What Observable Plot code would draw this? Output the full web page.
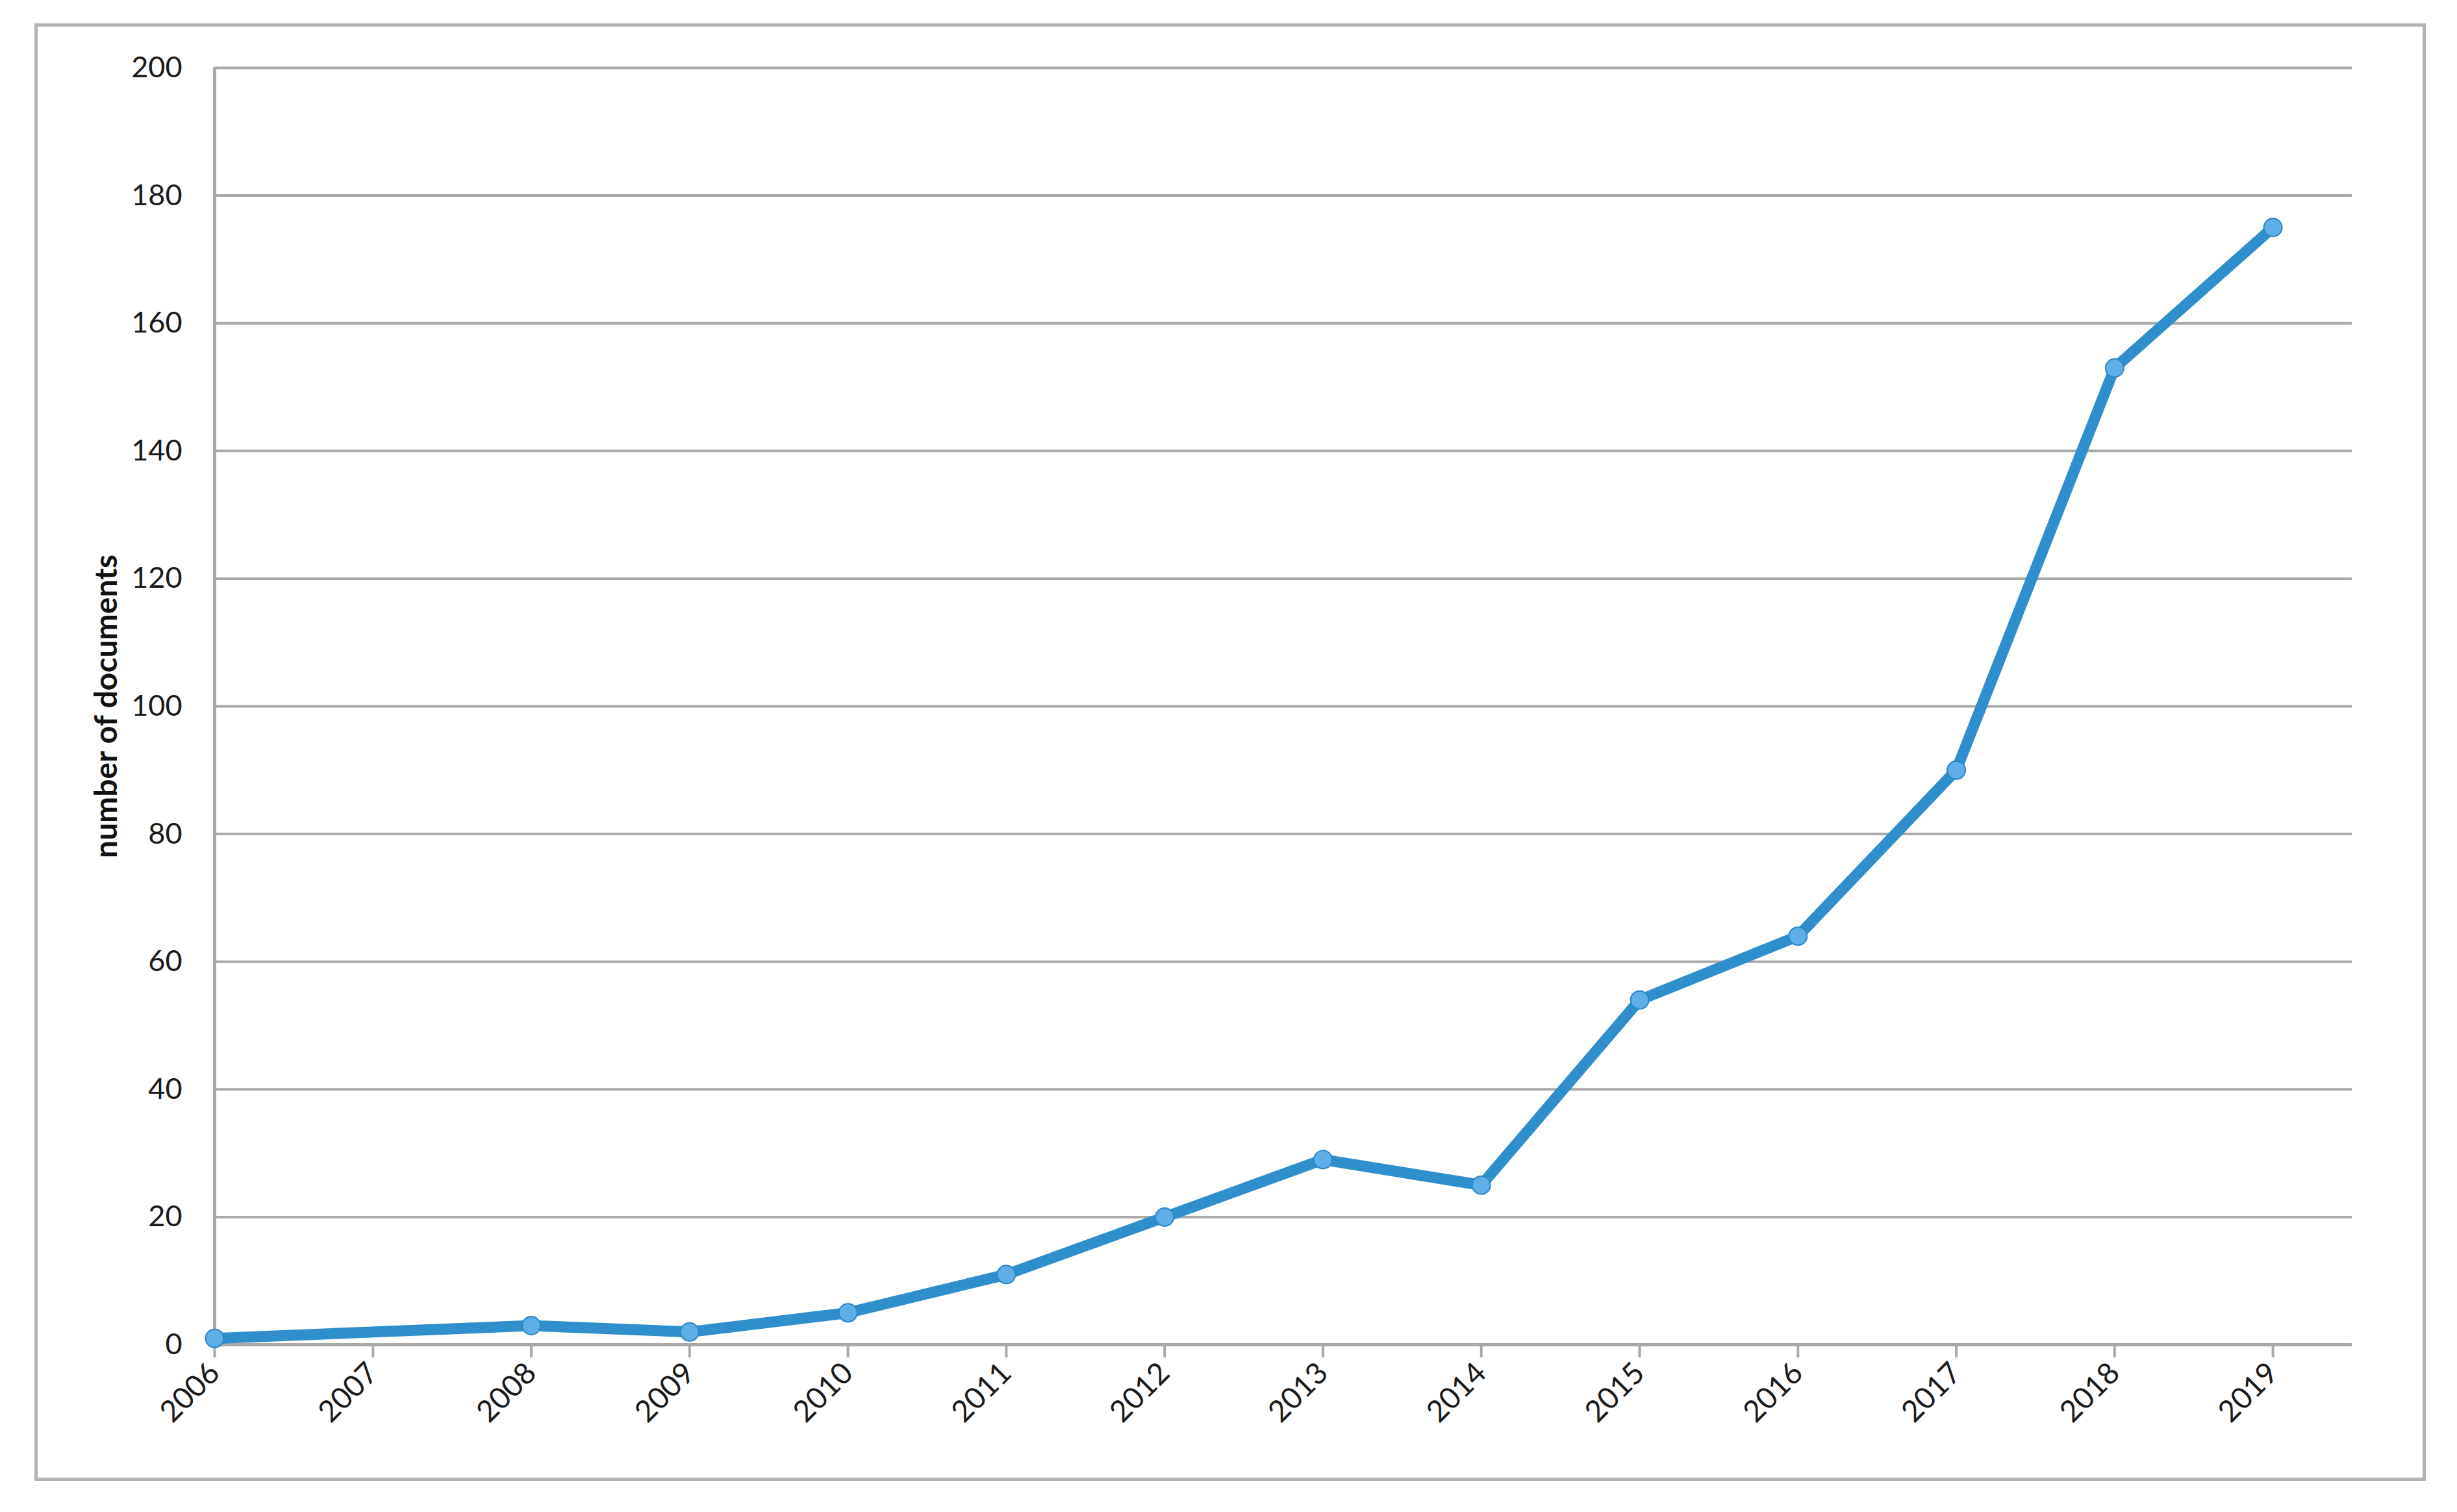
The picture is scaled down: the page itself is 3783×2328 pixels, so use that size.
<!DOCTYPE html>
<html>
<head>
<meta charset="utf-8">
<script src="https://cdn.jsdelivr.net/npm/d3@7"></script>
<script src="https://cdn.jsdelivr.net/npm/@observablehq/plot@0.6"></script>
<style>
  html, body { margin: 0; padding: 0; background: #fff; }
  #wrap { position: relative; width: 3783px; height: 2328px; background: #fff; }
  #border { position: absolute; left: 53px; top: 36px; width: 3682px; height: 2244px; box-sizing: border-box; border: 5px solid #b3b3b3; }
  #chart { position: absolute; left: 0; top: 0; }
</style>
</head>
<body>
<div id="wrap"><div id="border"></div><div id="chart"></div></div>
<script>
// Data (2007 has no point)
const years  = [2006, 2008, 2009, 2010, 2011, 2012, 2013, 2014, 2015, 2016, 2017, 2018, 2019];
const counts = [1, 3, 2, 5, 11, 20, 29, 25, 54, 64, 90, 153, 175];
const xTicks = [2006, 2007, 2008, 2009, 2010, 2011, 2012, 2013, 2014, 2015, 2016, 2017, 2018, 2019];
const yTicks = [0, 20, 40, 60, 80, 100, 120, 140, 160, 180, 200];
const yLabel = "number of documents";

const data = years.map((y, i) => ({year: y, count: counts[i]}));

const grey = "#a9a9a9";
const chart = Plot.plot({
  width: 3783,
  height: 2328,
  marginLeft: 330,
  marginTop: 104,
  marginRight: 162,
  marginBottom: 258,
  style: {fontFamily: "Lato, 'Open Sans', sans-serif", color: "#1a1a1a", background: "transparent"},
  x: {type: "linear", domain: [2006, 2019.5]},
  y: {domain: [0, 200]},
  marks: [
    Plot.gridY(yTicks, {stroke: grey, strokeOpacity: 1, strokeWidth: 4}),
    Plot.ruleX([2006], {stroke: grey, strokeWidth: 5}),
    Plot.ruleY([0], {stroke: grey, strokeWidth: 5}),
    Plot.axisY({ticks: yTicks, tickSize: 0, tickPadding: 50, fontSize: 45, label: null}),
    Plot.axisX({ticks: xTicks, tickFormat: d => String(d), tickRotate: -45, tickSize: 20, tickPadding: 16, fontSize: 46, stroke: grey, strokeWidth: 4, label: null}),
    Plot.text([yLabel], {frameAnchor: "left", textAnchor: "middle", dx: -166, rotate: -90, fontWeight: "bold", fontSize: 48, fill: "#111"}),
    Plot.line(data, {x: "year", y: "count", stroke: "#2f8fcd", strokeWidth: 17, strokeLinejoin: "round", strokeLinecap: "round"}),
    Plot.dot(data, {x: "year", y: "count", r: 14, fill: "#5eaeea", stroke: "#2b86c4", strokeWidth: 2})
  ]
});
document.getElementById("chart").appendChild(chart);
</script>
</body>
</html>
